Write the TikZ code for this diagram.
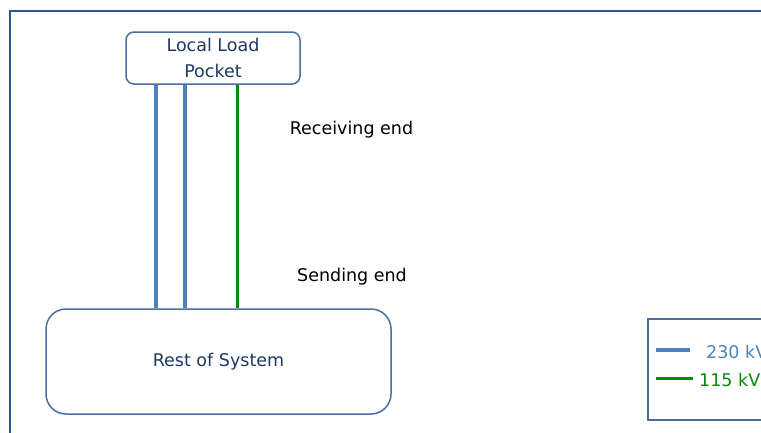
\documentclass[tikz,border=0pt]{standalone}
\usepackage{fontspec}
\setmainfont{DejaVu Sans}
\usepackage{tikz}
\usetikzlibrary{positioning}
\definecolor{framec}{HTML}{2F5597}
\definecolor{edgec}{HTML}{4A6E9E}
\definecolor{txtc}{HTML}{1F3864}
\definecolor{hv}{HTML}{4F81BD}
\definecolor{lv}{HTML}{0A8A0A}

\begin{document}
\begin{tikzpicture}[x=1pt, y=-1pt,
    lbl/.style={font=\fontsize{17.5}{26}\selectfont},
    blk/.style={lbl, draw=edgec, line width=1.5pt, text=txtc, align=center},
    kv230/.style={draw=hv, line width=4.5pt},
    kv115/.style={draw=lv, line width=3pt}]
      \useasboundingbox (0,0) rectangle (761,432);
      \clip (0,0) rectangle (761,432);
      \draw[framec, line width=2pt] (10,440) -- (10,11) -- (780,11);
      \node[blk, rounded corners=8pt, minimum width=174pt, minimum height=52pt] (pocket) at (213,58) {Local Load\\Pocket};
      \node[blk, rounded corners=20pt, minimum width=345pt, minimum height=105pt] (rest) at (218.5,361.5) {Rest of System};
      \coordinate (c1) at (156,200);
      \coordinate (c2) at (185,200);
      \coordinate (c3) at (237,200);
      \draw[kv230] (c1 |- pocket.south) -- (c1 |- rest.north);
      \draw[kv230] (c2 |- pocket.south) -- (c2 |- rest.north);
      \draw[kv115] (c3 |- pocket.south) -- (c3 |- rest.north);
      \node[lbl] (recv) at (351.5,130) {Receiving end};
      \node[lbl] (send) at (352,277) {Sending end};
      \draw[edgec, line width=1.5pt] (648,319) rectangle (800,420);
      \node[lbl, anchor=west, inner sep=0pt, text=hv] (l230) at (706,352) {230 kV};
      \node[lbl, anchor=west, inner sep=0pt, text=lv] (l115) at (699,380) {115 kV};
      \draw[kv230] (656,350) -- (690,350);
      \draw[kv115] (656,378) -- (693,378);
    \end{tikzpicture}
\end{document}
